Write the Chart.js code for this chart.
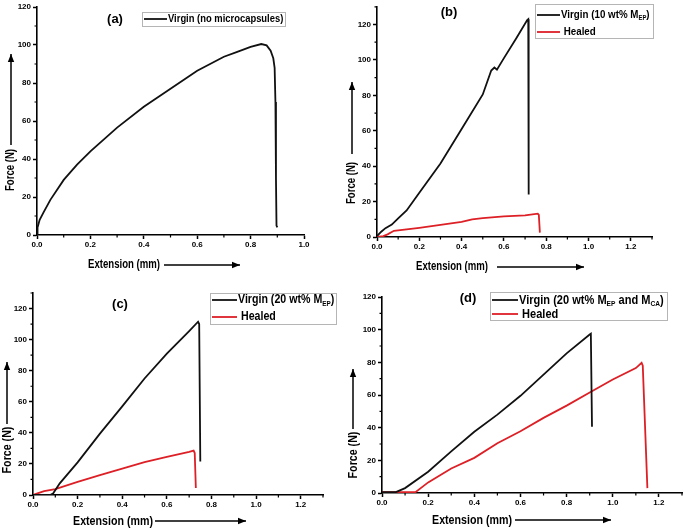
<!DOCTYPE html>
<html><head><meta charset="utf-8">
<script src="https://cdn.jsdelivr.net/npm/chart.js@4.4.1/dist/chart.umd.min.js"></script>
<style>
html,body{margin:0;padding:0;background:#fff;}
body{width:685px;height:528px;position:relative;overflow:hidden;}
canvas{position:absolute;}
</style></head><body>
<canvas id="ca" width="340" height="280" style="left:0px;top:0px"></canvas>
<canvas id="cb" width="345" height="280" style="left:340px;top:0px"></canvas>
<canvas id="cc" width="340" height="248" style="left:0px;top:280px"></canvas>
<canvas id="cd" width="345" height="248" style="left:340px;top:280px"></canvas>
<script>
// ---------- data ----------
const aVirginX = [0,0.002,0.01,0.025,0.05,0.1,0.15,0.2,0.3,0.4,0.5,0.6,0.7,0.75,0.8,0.84,0.86,0.875,0.885,0.89,0.893,0.895,0.897,0.9];
const aVirginY = [0,4,8,12,18.5,29,37,44,56.5,67.5,77,86.5,93.8,96.4,99,100.5,99.8,97,93,88,70,30,5,4];

const bVirginX = [0,0.02,0.04,0.07,0.1,0.14,0.2,0.3,0.4,0.5,0.54,0.555,0.567,0.6,0.66,0.71,0.715,0.717];
const bVirginY = [0.5,3,5,7,10.5,15,25,41.5,61,80.5,94,95.7,94.5,101,112.5,122.5,123,24];
const bHealedX = [0,0.03,0.05,0.08,0.12,0.2,0.3,0.4,0.45,0.5,0.6,0.7,0.76,0.765,0.77];
const bHealedY = [0,0.5,1.5,3.5,4,5.2,6.8,8.6,10,10.7,11.6,12.2,13.2,12.5,2.5];

const cVirginX = [0,0.08,0.09,0.12,0.2,0.3,0.4,0.5,0.6,0.7,0.74,0.745,0.75];
const cVirginY = [0,0.3,1,7.5,21,39.5,57,75,91,105.5,111.5,110,21.5];
const cHealedX = [0,0.02,0.05,0.1,0.2,0.3,0.4,0.5,0.6,0.7,0.72,0.725,0.73];
const cHealedY = [0,1,2.5,3.8,8.5,12.8,17,21.2,24.6,27.8,28.6,27,4.5];

const dVirginX = [0,0.06,0.1,0.2,0.3,0.4,0.5,0.6,0.7,0.8,0.9,0.905,0.91];
const dVirginY = [0.5,0.5,3,13,25.5,37.5,48,59.5,72.5,85.5,97,97.5,40.5];
const dHealedX = [0,0.145,0.2,0.3,0.4,0.5,0.6,0.7,0.8,0.9,1.0,1.1,1.125,1.13,1.15];
const dHealedY = [0.5,0.5,6.5,15,21.5,30.5,37.8,46,53.5,61.5,69.5,76.5,79.7,78,3];

const xTicksA = [0,0.2,0.4,0.6,0.8,1.0];
const xTicksWide = [0,0.2,0.4,0.6,0.8,1.0,1.2];
const yTicksAll = [0,20,40,60,80,100,120];

const panelLabels = ['(a)','(b)','(c)','(d)'];
const xTitle = 'Extension (mm)';
const yTitle = 'Force (N)';
const legendA = [[{t:'Virgin (no microcapsules)'}]];
const legendB = [[{t:'Virgin (10 wt% M'},{t:'EP',sub:true},{t:')'}],[{t:' Healed'}]];
const legendC = [[{t:'Virgin (20 wt% M'},{t:'EP',sub:true},{t:')'}],[{t:' Healed'}]];
const legendD = [[{t:'Virgin (20 wt% M'},{t:'EP',sub:true},{t:' and M'},{t:'CA',sub:true},{t:')'}],[{t:' Healed'}]];

// ---------- styles ----------
const SANS = '"Liberation Sans",Arial,sans-serif';
const BLACK = '#111111';
const RED = '#dd1f26';

function rich(ctx, x, y, parts, size, sx) {
  ctx.save();
  ctx.translate(x, y); ctx.scale(sx, 1);
  let cx = 0;
  for (const p of parts) {
    const s = p.sub ? size * 0.6 : size;
    ctx.font = 'bold ' + s + 'px ' + SANS;
    ctx.fillText(p.t, cx, p.sub ? size * 0.3 : 0);
    cx += ctx.measureText(p.t).width;
  }
  ctx.restore();
}
function arrow(ctx, x1, y1, x2, y2) {
  ctx.beginPath(); ctx.moveTo(x1, y1); ctx.lineTo(x2, y2); ctx.stroke();
  const a = Math.atan2(y2 - y1, x2 - x1), L = 8, W = 3.2;
  ctx.beginPath();
  ctx.moveTo(x2, y2);
  ctx.lineTo(x2 - L * Math.cos(a) + W * Math.sin(a), y2 - L * Math.sin(a) - W * Math.cos(a));
  ctx.lineTo(x2 - L * Math.cos(a) - W * Math.sin(a), y2 - L * Math.sin(a) + W * Math.cos(a));
  ctx.closePath(); ctx.fill();
}

const decor = {
  id: 'decor',
  afterDraw(chart, args, o) {
    const ctx = chart.ctx, ox = o.ox, oy = o.oy;
    ctx.save();
    ctx.translate(-ox, -oy);
    ctx.fillStyle = '#000'; ctx.strokeStyle = '#000';
    // minor ticks
    const xs = chart.scales.x, ys = chart.scales.y;
    ctx.lineWidth = 1.2;
    ctx.beginPath();
    for (let v = o.xMinor; v <= o.xMax + 1e-9; v += o.xMinor * 2) {
      const px = xs.getPixelForValue(v) + ox;
      ctx.moveTo(px, xs.top + oy); ctx.lineTo(px, xs.top + oy + 2.5);
    }
    for (let v = o.yMinor; v <= o.yMax + 1e-9; v += o.yMinor * 2) {
      const py = ys.getPixelForValue(v) + oy;
      ctx.moveTo(ys.right + ox, py); ctx.lineTo(ys.right + ox - 2.5, py);
    }
    ctx.stroke();
    // axis titles + arrows
    ctx.textBaseline = 'middle'; ctx.textAlign = 'center';
    ctx.font = 'bold ' + o.ts + 'px ' + SANS;
    ctx.save();
    ctx.translate(o.xt.cx, o.xt.y); ctx.scale(o.tsx, 1);
    ctx.fillText(xTitle, 0, 0);
    ctx.restore();
    ctx.lineWidth = 1.5;
    arrow(ctx, o.xt.a1, o.xt.y, o.xt.a2, o.xt.y);
    ctx.save();
    ctx.translate(o.yt.x, o.yt.cy); ctx.rotate(-Math.PI / 2); ctx.scale(o.tsx, 1);
    ctx.fillText(yTitle, 0, 0);
    ctx.restore();
    arrow(ctx, o.yt.x, o.yt.a1, o.yt.x, o.yt.a2);
    // panel label
    ctx.font = 'bold 13px ' + SANS;
    ctx.fillText(o.label.t, o.label.x, o.label.y);
    // legend
    const L = o.legend;
    ctx.strokeStyle = '#b5b5b5'; ctx.lineWidth = 1;
    ctx.strokeRect(L.x1 + 0.5, L.y1 + 0.5, L.x2 - L.x1, L.y2 - L.y1);
    ctx.textAlign = 'left';
    L.rows.forEach((r, i) => {
      ctx.strokeStyle = o.colors[i]; ctx.lineWidth = 1.8;
      ctx.beginPath(); ctx.moveTo(L.x1 + 2, r); ctx.lineTo(L.lx, r); ctx.stroke();
      ctx.fillStyle = '#000';
      rich(ctx, L.lx + 1, r, L.items[i], L.size, L.sx);
    });
    ctx.restore();
  }
};

function makeChart(id, p) {
  const datasets = p.series.map(s => ({
    data: s.xs.map((x, i) => ({x: x, y: s.ys[i]})),
    borderColor: s.color, borderWidth: 1.8, showLine: true,
    pointRadius: 0, tension: 0, fill: false
  }));
  const tickFont = {family: SANS, size: 8, weight: 'bold'};
  new Chart(document.getElementById(id), {
    type: 'scatter',
    data: {datasets: datasets},
    options: {
      responsive: false, animation: false, devicePixelRatio: 1,
      layout: {padding: {left: 0, top: p.pad.t, right: p.pad.r, bottom: p.pad.b}},
      plugins: {legend: {display: false}, tooltip: {enabled: false},
        decor: Object.assign({colors: p.series.map(s => s.color)}, p.decor)},
      scales: {
        x: {type: 'linear', min: 0, max: p.decor.xMax,
          afterFit(s) { s.height = 20; },
          afterBuildTicks(s) { s.ticks = p.xTicks.map(v => ({value: v})); },
          grid: {drawOnChartArea: false, tickLength: 4, tickWidth: 1.5, tickColor: '#000'},
          border: {color: '#000', width: 1.6},
          ticks: {color: '#000', font: tickFont, padding: 1, maxRotation: 0, autoSkip: false,
            callback: v => Number(v).toFixed(1)}},
        y: {type: 'linear', min: 0, max: p.decor.yMax,
          afterFit(s) { s.width = p.yw; },
          afterBuildTicks(s) { s.ticks = p.yTicks.map(v => ({value: v})); },
          grid: {drawOnChartArea: false, tickLength: 4, tickWidth: 1.5, tickColor: '#000'},
          border: {color: '#000', width: 1.6},
          ticks: {color: '#000', font: tickFont, padding: 2, autoSkip: false,
            callback: v => String(v)}}
      }
    },
    plugins: [decor]
  });
}

makeChart('ca', {
  yw: 37, pad: {t: 7, r: 36, b: 25}, xTicks: xTicksA, yTicks: yTicksAll,
  series: [{xs: aVirginX, ys: aVirginY, color: BLACK}],
  decor: {ox: 0, oy: 0, xMax: 1.0, yMax: 120, xMinor: 0.1, yMinor: 10, ts: 12, tsx: 0.8,
    xt: {cx: 124, y: 265, a1: 164, a2: 240},
    yt: {x: 11, cy: 170, a1: 145, a2: 54},
    label: {t: panelLabels[0], x: 115, y: 19},
    legend: {x1: 142, y1: 12, x2: 285, y2: 26, lx: 167, rows: [19], items: legendA, size: 11, sx: 0.855}}
});
makeChart('cb', {
  yw: 37, pad: {t: 5, r: 33, b: 23}, xTicks: xTicksWide, yTicks: yTicksAll,
  series: [{xs: bVirginX, ys: bVirginY, color: BLACK}, {xs: bHealedX, ys: bHealedY, color: RED}],
  decor: {ox: 340, oy: 0, xMax: 1.3, yMax: 130, xMinor: 0.1, yMinor: 10, ts: 12, tsx: 0.8,
    xt: {cx: 452, y: 267, a1: 497, a2: 584},
    yt: {x: 352, cy: 183, a1: 154, a2: 82},
    label: {t: panelLabels[1], x: 449, y: 12},
    legend: {x1: 535, y1: 4, x2: 653, y2: 38, lx: 560, rows: [15, 32], items: legendB, size: 11.5, sx: 0.85}}
});
makeChart('cc', {
  yw: 33, pad: {t: 13, r: 17, b: 13}, xTicks: xTicksWide, yTicks: yTicksAll,
  series: [{xs: cVirginX, ys: cVirginY, color: BLACK}, {xs: cHealedX, ys: cHealedY, color: RED}],
  decor: {ox: 0, oy: 280, xMax: 1.3, yMax: 130, xMinor: 0.1, yMinor: 10, ts: 13, tsx: 0.82,
    xt: {cx: 113, y: 521, a1: 155, a2: 246},
    yt: {x: 7, cy: 450, a1: 424, a2: 362},
    label: {t: panelLabels[2], x: 120, y: 304},
    legend: {x1: 210, y1: 293, x2: 336, y2: 324, lx: 237, rows: [300, 317], items: legendC, size: 12.5, sx: 0.85}}
});
makeChart('cd', {
  yw: 42, pad: {t: 17, r: 3, b: 15}, xTicks: xTicksWide, yTicks: yTicksAll,
  series: [{xs: dVirginX, ys: dVirginY, color: BLACK}, {xs: dHealedX, ys: dHealedY, color: RED}],
  decor: {ox: 340, oy: 280, xMax: 1.3, yMax: 120, xMinor: 0.1, yMinor: 10, ts: 13, tsx: 0.82,
    xt: {cx: 472, y: 520, a1: 515, a2: 611},
    yt: {x: 353, cy: 455, a1: 429, a2: 369},
    label: {t: panelLabels[3], x: 468, y: 298},
    legend: {x1: 490, y1: 292, x2: 667, y2: 320, lx: 518, rows: [300, 314], items: legendD, size: 13, sx: 0.85}}
});
</script>
</body></html>
